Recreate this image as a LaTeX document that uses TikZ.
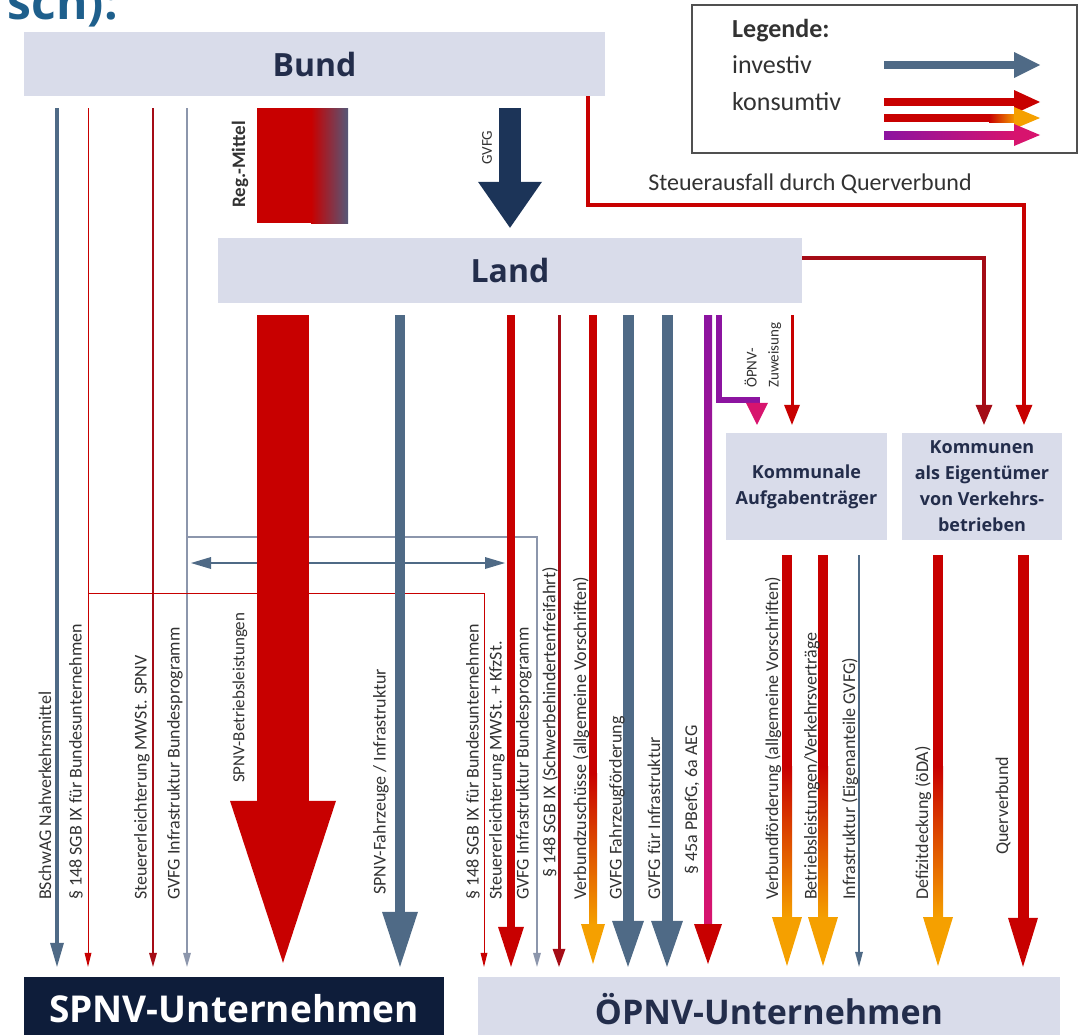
\documentclass[tikz,border=0pt]{standalone}
\usepackage{fontspec}
\setmainfont{Carlito}
\newfontfamily\headfont{Open Sans}
\usepackage{tikz}
\usetikzlibrary{arrows.meta,positioning}

\definecolor{dbred}{RGB}{200,0,0}
\definecolor{dbdark}{RGB}{165,12,22}
\definecolor{slate}{RGB}{79,106,134}
\definecolor{navy}{RGB}{28,52,88}
\definecolor{boxfill}{RGB}{217,220,234}
\definecolor{boxtext}{RGB}{35,45,75}
\definecolor{spnvbg}{RGB}{14,29,58}
\definecolor{orng}{RGB}{245,160,0}
\definecolor{purp}{RGB}{140,20,160}
\definecolor{mgnt}{RGB}{215,20,110}
\definecolor{thingray}{RGB}{140,150,172}
\definecolor{titleblue}{RGB}{30,95,140}
\definecolor{lbltext}{RGB}{50,50,50}
\definecolor{regslate}{RGB}{85,88,120}
\definecolor{legendgray}{RGB}{80,80,80}

\tikzset{
  box/.style={fill=boxfill, text=boxtext, inner sep=0pt, font=\headfont\bfseries\fontsize{32}{36}\selectfont},
  smallbox/.style={box, align=center, font=\headfont\bfseries\fontsize{18}{26}\selectfont},
  lbl/.style={rotate=90, anchor=west, inner sep=0pt, text=lbltext, font=\fontsize{18}{20}\selectfont},
  legtext/.style={anchor=base west, inner sep=0pt, text=lbltext, font=\fontsize{26}{28}\selectfont},
  ahead/.style 2 args={-{Triangle[width=#1,length=#2,line width=0pt]}},
}

% shaft in one colour, fading into the colour of the head near its end
\newcommand{\gradarrow}[9]{%
  \fill[#7] ({#1-#4/2},#2) rectangle ({#1+#4/2},{#3-#6-#9});
  \shade[top color=#7, bottom color=#8] ({#1-#4/2},{#3-#6-#9-0.5}) rectangle ({#1+#4/2},{#3-#6+0.5});
  \fill[#8] ({#1-#5/2},{#3-#6}) -- ({#1+#5/2},{#3-#6}) -- (#1,#3) -- cycle;}

\begin{document}
\begin{tikzpicture}[x=1pt, y=-1pt]
\useasboundingbox (0,0) rectangle (1079,1034);
\clip (0,0) rectangle (1079,1034);

% title, cut off at the top
\node[anchor=base east, inner sep=0pt, text=titleblue, font=\headfont\bfseries\fontsize{48}{50}\selectfont] (titletail) at (118,19) {sch):};

% boxes
\node[box, minimum width=581, minimum height=64] (bund) at (314.5,64) {Bund};
\node[box, minimum width=584, minimum height=65] (land) at (510,270.5) {Land};
\node[smallbox, minimum width=161, minimum height=107] (komm) at (806.5,486.5) {Kommunale\\Aufgabenträger};
\node[smallbox, minimum width=160, minimum height=107] (eigen) at (982,486.5) {Kommunen\\als Eigentümer\\von Verkehrs-\\betrieben};
\node[box, fill=spnvbg, text=white, minimum width=420, minimum height=64, font=\headfont\bfseries\fontsize{37}{40}\selectfont] (spnv) at (234,1009) {SPNV-Unternehmen};
\node[box, minimum width=582, minimum height=64, font=\headfont\bfseries\fontsize{34}{36}\selectfont] (oepnv) at (769,1009) {ÖPNV-Unternehmen};

\coordinate (bundout) at ([yshift=-12pt]bund.south);
\coordinate (landin) at ([yshift=10pt]land.north);
\coordinate (landout) at ([yshift=-12pt]land.south);
\coordinate (kommtop) at ([yshift=8pt]komm.north);
\coordinate (kommout) at ([yshift=-15pt]komm.south);
\coordinate (eigentop) at ([yshift=8pt]eigen.north);
\coordinate (eigenout) at ([yshift=-15pt]eigen.south);
\coordinate (spnvtop) at ([yshift=10pt]spnv.north);
\coordinate (oeptop) at ([yshift=10pt]oepnv.north);

% legend
\node[draw=legendgray, line width=1.5pt, minimum width=385, minimum height=148, inner sep=0pt] (legend) at (884.5,79) {};
\node[legtext, font=\bfseries\fontsize{26}{28}\selectfont] (legtitle) at (732,37) {Legende:};
\node[legtext] (leginv) at (732,73) {investiv};
\node[legtext] (legkons) at (732,110) {konsumtiv};
\draw[slate, line width=8pt, ahead={26pt}{26pt}] (884,65) -- (1040,65);
\draw[dbred, line width=8pt, ahead={24pt}{26pt}] (884,102) -- (1040,102);
\fill[dbred] (884,114) rectangle (990,122);
\shade[left color=dbred, right color=orng] (989,114) rectangle (1016,122);
\fill[orng] (1014,107) -- (1040,118) -- (1014,129) -- cycle;
\shade[left color=purp, right color=mgnt] (884,131) rectangle (1016,139);
\fill[mgnt] (1014,124) -- (1040,135) -- (1014,146) -- cycle;

% Bund -> Land
\fill[dbred] (257,108) rectangle (312,223);
\shade[left color=dbred, right color=regslate] (311,108) rectangle (348,223);
\node[lbl, font=\bfseries\fontsize{19}{21}\selectfont] (regmittel) at (240,208) {Reg.-Mittel};
\draw[navy, line width=22pt, ahead={64pt}{46pt}] (bundout -| 510,0) -- (landin -| 510,0);
\node[lbl, font=\fontsize{15}{17}\selectfont] (gvfg) at (487,165) {GVFG};

% Steuerausfall
\draw[dbred, line width=4.5pt, line join=miter, ahead={17pt}{20pt}] (bund.south -| 588,0) -- (588,205) -- (1024,205) -- (eigentop -| 1024,0);
\node[text=lbltext, inner sep=0pt, font=\fontsize{24}{26}\selectfont] (steuerausfall) at (810,184) {Steuerausfall durch Querverbund};
\draw[dbdark, line width=3.5pt, line join=miter, ahead={17pt}{20pt}] (land.east |- 0,258) -- (984,258) -- (eigentop -| 984,0);

% Bund -> SPNV
\draw[slate, line width=4pt, ahead={14pt}{24pt}] (bundout -| 57,0) -- (spnvtop -| 57,0);
\draw[dbred, line width=1pt, ahead={7pt}{14pt}] (bundout -| 88,0) -- (spnvtop -| 88,0);
\draw[dbdark, line width=1.6pt, ahead={8pt}{14pt}] (bundout -| 153,0) -- (spnvtop -| 153,0);
\draw[thingray, line width=1.6pt, ahead={8pt}{14pt}] (bundout -| 187,0) -- (spnvtop -| 187,0);
\draw[thingray, line width=1.3pt, line join=miter, ahead={8pt}{14pt}] (187,537) -- (537,537) -- (oeptop -| 537,0);
\draw[slate, line width=1.3pt, {Triangle[width=12pt,length=20pt,line width=0pt]}-{Triangle[width=12pt,length=20pt,line width=0pt]}] (191,563) -- (505,563);
\draw[dbred, line width=1pt, line join=miter, ahead={7pt}{14pt}] (88,593) -- (484,593) -- (oeptop -| 484,0);

% Land -> SPNV
\draw[dbred, line width=52pt, ahead={106pt}{162pt}] (landout -| 283,0) -- ([yshift=4pt]spnvtop -| 283,0);
\draw[slate, line width=10pt, ahead={36pt}{55pt}] (landout -| 400,0) -- (spnvtop -| 400,0);

% Land -> OePNV
\draw[dbred, line width=8pt, ahead={26pt}{40pt}] (landout -| 511,0) -- (oeptop -| 511,0);
\draw[dbdark, line width=3pt, ahead={13pt}{18pt}] (landout -| 559,0) -- (oeptop -| 559,0);
\gradarrow{593}{315}{964}{8}{24}{40}{dbred}{orng}{150}
\draw[slate, line width=11pt, ahead={32pt}{46pt}] (landout -| 628,0) -- (oeptop -| 628,0);
\draw[slate, line width=11pt, ahead={32pt}{46pt}] (landout -| 667,0) -- (oeptop -| 667,0);
\shade[top color=purp, bottom color=mgnt] (704,315) rectangle (712,925);
\fill[dbred] (694,924) -- (722,924) -- (708,964) -- cycle;

% Land -> Kommunen
\draw[purp, line width=6pt, line join=miter, -{Triangle[width=22pt,length=22pt,line width=0pt,color=mgnt]}] (landout -| 719,0) -- (719,400) -- (757,400) -- (kommtop -| 757,0);
\node[lbl, align=left, font=\fontsize{15}{22}\selectfont] (zuweisung) at (763,388) {ÖPNV-\\Zuweisung};
\draw[dbred, line width=3pt, ahead={16pt}{20pt}] (landout -| 792,0) -- (kommtop -| 792,0);

% Kommunen -> OePNV
\gradarrow{787}{555}{966}{10}{30}{49}{dbred}{orng}{150}
\gradarrow{823}{555}{966}{10}{30}{49}{dbred}{orng}{150}
\draw[slate, line width=2pt, ahead={8pt}{15pt}] (kommout -| 859,0) -- (oeptop -| 859,0);
\gradarrow{938}{555}{966}{10}{30}{49}{dbred}{orng}{150}
\draw[dbred, line width=11pt, ahead={30pt}{49pt}] (eigenout -| 1023,0) -- (oeptop -| 1023,0);

% labels
\node[lbl] (l1) at (45,900) {BSchwAG Nahverkehrsmittel};
\node[lbl] (l2) at (76,900) {§ 148 SGB IX für Bundesunternehmen};
\node[lbl] (l3) at (142,900) {Steuererleichterung MWSt. SPNV};
\node[lbl] (l4) at (175,900) {GVFG Infrastruktur Bundesprogramm};
\node[lbl, font=\fontsize{17}{19}\selectfont] (l5) at (240,783) {SPNV-Betriebsleistungen};
\node[lbl] (l6) at (381,895) {SPNV-Fahrzeuge / Infrastruktur};
\node[lbl] (l7) at (473,900) {§ 148 SGB IX für Bundesunternehmen};
\node[lbl] (l8) at (497,900) {Steuererleichterung MWSt. + KfzSt.};
\node[lbl] (l9) at (524,900) {GVFG Infrastruktur Bundesprogramm};
\node[lbl] (l10) at (550,878) {§ 148 SGB IX (Schwerbehindertenfreifahrt)};
\node[lbl] (l11) at (581,900) {Verbundzuschüsse (allgemeine Vorschriften)};
\node[lbl] (l12) at (617,900) {GVFG Fahrzeugförderung};
\node[lbl] (l13) at (654,900) {GVFG für Infrastruktur};
\node[lbl] (l14) at (692,875) {§ 45a PBefG, 6a AEG};
\node[lbl] (l15) at (773,900) {Verbundförderung (allgemeine Vorschriften)};
\node[lbl] (l16) at (812,900) {Betriebsleistungen/Verkehrsverträge};
\node[lbl] (l17) at (850,900) {Infrastruktur (Eigenanteile GVFG)};
\node[lbl] (l18) at (923,900) {Defizitdeckung (öDA)};
\node[lbl] (l19) at (1003,855) {Querverbund};
\end{tikzpicture}
\end{document}
